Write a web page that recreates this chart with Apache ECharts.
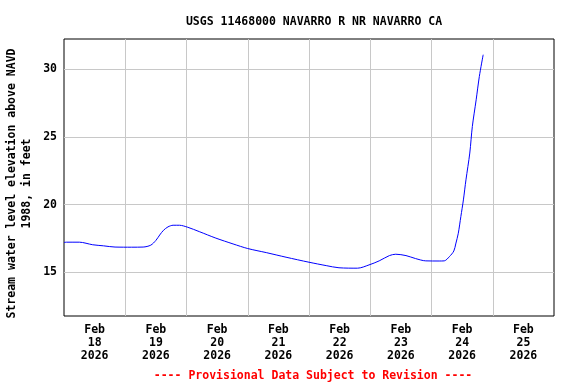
<!DOCTYPE html>
<html>
<head>
<meta charset="utf-8">
<script src="https://cdn.jsdelivr.net/npm/echarts@6/dist/echarts.min.js"></script>
<style>html,body{margin:0;padding:0;background:#fff;}#c{width:576px;height:384px;}</style>
</head>
<body>
<div id="c"></div>
<script>
const titleText = 'USGS 11468000 NAVARRO R NR NAVARRO CA';
const yAxisTitle = 'Stream water level elevation above NAVD\n1988, in feet';
const footerText = '---- Provisional Data Subject to Revision ----';
const dayLabels = ['Feb\n18\n2026','Feb\n19\n2026','Feb\n20\n2026','Feb\n21\n2026','Feb\n22\n2026','Feb\n23\n2026','Feb\n24\n2026','Feb\n25\n2026'];
const startTime = '2026-02-18T00:00';
const endTime = '2026-02-26T00:00';
const times = [
 '2026-02-18T00:00','2026-02-18T01:00','2026-02-18T06:00','2026-02-18T11:15','2026-02-18T15:30','2026-02-18T20:00',
 '2026-02-19T02:30','2026-02-19T07:00','2026-02-19T10:00','2026-02-19T12:00','2026-02-19T13:30','2026-02-19T15:00',
 '2026-02-19T16:45','2026-02-19T18:45','2026-02-19T21:15','2026-02-20T00:30','2026-02-20T05:00','2026-02-20T11:30',
 '2026-02-20T18:15','2026-02-21T00:00','2026-02-21T07:15','2026-02-21T15:00','2026-02-22T00:00','2026-02-22T06:45',
 '2026-02-22T11:45','2026-02-22T19:00','2026-02-22T23:30','2026-02-23T03:30','2026-02-23T07:30','2026-02-23T10:00',
 '2026-02-23T14:00','2026-02-23T17:45','2026-02-23T21:45','2026-02-24T03:00','2026-02-24T05:00','2026-02-24T07:00',
 '2026-02-24T08:45','2026-02-24T09:30','2026-02-24T10:30','2026-02-24T11:30','2026-02-24T12:30','2026-02-24T13:30',
 '2026-02-24T15:00','2026-02-24T16:00','2026-02-24T17:30','2026-02-24T18:45','2026-02-24T20:15'
];
const levels = [
 17.20,17.22,17.22,17.03,16.95,16.86,
 16.85,16.86,17.00,17.35,17.75,18.10,
 18.35,18.47,18.47,18.32,18.00,17.52,
 17.09,16.75,16.45,16.11,15.74,15.49,
 15.33,15.30,15.54,15.84,16.23,16.33,
 16.23,16.01,15.84,15.83,15.84,16.15,
 16.57,17.09,17.88,19.11,20.34,21.82,
 23.80,25.76,27.73,29.46,31.06
];
const yMin = 11.77, yMax = 32.22;

function hoursFrom(t){ return (Date.parse(t + 'Z') - Date.parse(startTime + 'Z')) / 3600000; }
const totalHours = hoursFrom(endTime);
const seriesData = times.map((t, i) => [hoursFrom(t), levels[i]]);

const font = '"DejaVu Sans Mono", "Liberation Mono", monospace';
const chart = echarts.init(document.getElementById('c'), null, {renderer: 'canvas'});
chart.setOption({
  animation: false,
  backgroundColor: '#fff',
  title: [{
    text: titleText, left: 309, top: 11, textAlign: 'center',
    textStyle: {fontFamily: font, fontSize: 11.5, fontWeight: 'bold', color: '#000'}
  }, {
    text: footerText, left: 308, top: 365, textAlign: 'center',
    textStyle: {fontFamily: font, fontSize: 11.5, fontWeight: 'bold', color: '#ff0000'}
  }],
  grid: {left: 64, right: 22, top: 39, bottom: 68, containLabel: false, outerBoundsMode: 'none',
    show: true, borderColor: '#000', borderWidth: 1, backgroundColor: 'transparent'},
  xAxis: [{
    type: 'value', min: 0, max: totalHours, interval: 24,
    axisLine: {show: false}, axisTick: {show: false}, axisLabel: {show: false},
    splitLine: {show: true, showMinLine: false, showMaxLine: false, lineStyle: {color: '#c8c8c8', width: 1}}
  }, {
    type: 'category', data: dayLabels, boundaryGap: true, position: 'bottom',
    axisLine: {show: false}, axisTick: {show: false}, splitLine: {show: false},
    axisLabel: {interval: 0, margin: 8, lineHeight: 13, fontFamily: font, fontSize: 11.5, fontWeight: 'bold', color: '#000'}
  }],
  yAxis: {
    type: 'value', min: yMin, max: yMax, splitNumber: 4,
    name: yAxisTitle, nameLocation: 'middle', nameRotate: 90, nameGap: 29, nameMoveOverlap: false,
    nameTextStyle: {fontFamily: font, fontSize: 11.5, fontWeight: 'bold', color: '#000', lineHeight: 15.5, align: 'center', padding: [0, 12, 0, 0]},
    axisLine: {show: false}, axisTick: {show: false},
    axisLabel: {margin: 7, fontFamily: font, fontSize: 11.5, fontWeight: 'bold', color: '#000', showMinLabel: false, showMaxLabel: false,
      formatter: v => (Math.abs(v % 5) < 1e-6 ? String(v) : '')},
    splitLine: {show: true, showMinLine: false, showMaxLine: false, lineStyle: {color: '#c8c8c8', width: 1}}
  },
  series: [{
    type: 'line', xAxisIndex: 0, data: seriesData, showSymbol: false, smooth: 0.3,
    lineStyle: {color: '#0000ff', width: 1}
  }]
});
</script>
</body>
</html>
